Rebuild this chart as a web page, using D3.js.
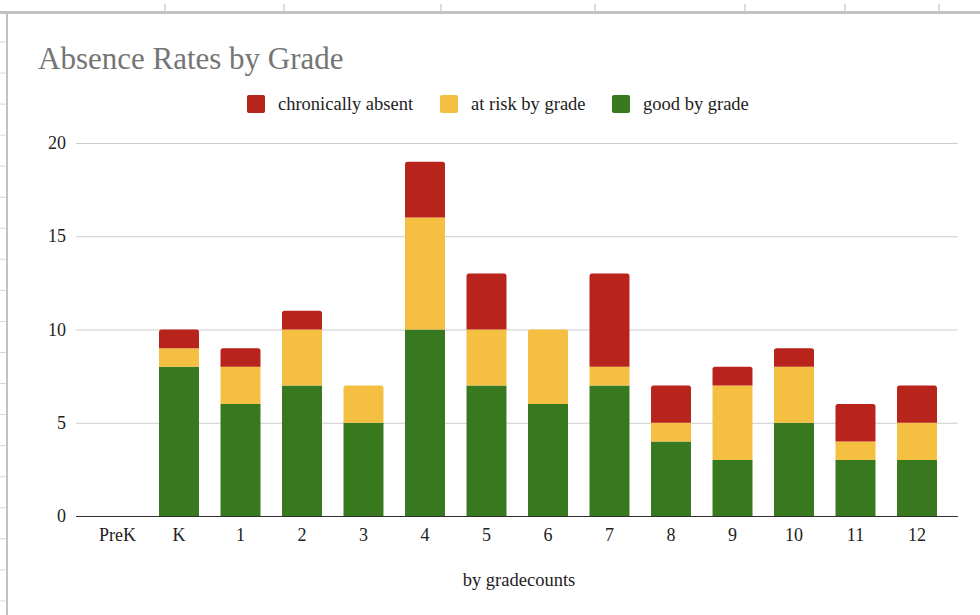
<!DOCTYPE html>
<html>
<head>
<meta charset="utf-8">
<script src="https://cdn.jsdelivr.net/npm/d3@7"></script>
<style>
  body { margin: 0; background: #fff; }
  svg { display: block; font-family: "Liberation Serif", "Times New Roman", serif; }
</style>
</head>
<body>
<script>
// data
var grades = ["PreK", "K", "1", "2", "3", "4", "5", "6", "7", "8", "9", "10", "11", "12"];
var good = [0, 8, 6, 7, 5, 10, 7, 6, 7, 4, 3, 5, 3, 3];
var atRisk = [0, 1, 2, 3, 2, 6, 3, 4, 1, 1, 4, 3, 1, 2];
var chronic = [0, 1, 1, 1, 0, 3, 3, 0, 5, 2, 1, 1, 2, 2];
var yTicks = [0, 5, 10, 15, 20];

var seriesNames = ["good by grade", "at risk by grade", "chronically absent"];
var seriesColors = ["#38781e", "#f5bf42", "#b8231b"];

var table = grades.map(function(g, i) {
	return { grade: g, good: good[i], atRisk: atRisk[i], chronic: chronic[i] };
});

var svg = d3.select("body").append("svg")
	.attr("width", 980)
	.attr("height", 615);

// spreadsheet frame behind the chart
var frame = svg.append("g");
frame.append("line")
	.attr("x1", 0).attr("x2", 980)
	.attr("y1", 12.5).attr("y2", 12.5)
	.attr("stroke", "#c2c2c2").attr("stroke-width", 3);
frame.append("line")
	.attr("x1", 7).attr("x2", 7)
	.attr("y1", 11).attr("y2", 615)
	.attr("stroke", "#c2c2c2").attr("stroke-width", 2);
frame.selectAll(".colTick")
	.data([165, 284, 441, 595, 745, 845, 939])
	.enter().append("line")
	.attr("x1", function(d) { return d; })
	.attr("x2", function(d) { return d; })
	.attr("y1", 4).attr("y2", 11)
	.attr("stroke", "#d0d0d0").attr("stroke-width", 1.5);
frame.selectAll(".rowTick")
	.data(d3.range(42, 615, 31.05))
	.enter().append("line")
	.attr("x1", 0).attr("x2", 6)
	.attr("y1", function(d) { return d; })
	.attr("y2", function(d) { return d; })
	.attr("stroke", "#d8d8d8").attr("stroke-width", 1);

var x = d3.scaleBand()
	.domain(grades)
	.range([86.75, 947.75])
	.paddingInner(0.35)
	.paddingOuter(0.175);

var y = d3.scaleLinear()
	.domain([0, 20])
	.range([516, 143]);

// gridlines
svg.append("g")
	.selectAll("line")
	.data(yTicks.filter(function(d) { return d > 0; }))
	.enter().append("line")
	.attr("x1", 76).attr("x2", 958)
	.attr("y1", function(d) { return y(d) + 0.5; })
	.attr("y2", function(d) { return y(d) + 0.5; })
	.attr("stroke", "#cccccc");

// y tick labels
svg.append("g")
	.selectAll("text")
	.data(yTicks)
	.enter().append("text")
	.attr("x", 66)
	.attr("y", function(d) { return y(d) + 6; })
	.attr("text-anchor", "end")
	.style("font-size", "18px")
	.attr("fill", "#222")
	.text(function(d) { return d; });

// stacked bars
var stack = d3.stack().keys(["good", "atRisk", "chronic"]);
var layers = stack(table);

function topPath(x0, w, y0, y1, r) {
	r = Math.min(r, (y0 - y1) / 2);
	return "M" + x0 + "," + y0 +
		"V" + (y1 + r) +
		"Q" + x0 + "," + y1 + " " + (x0 + r) + "," + y1 +
		"H" + (x0 + w - r) +
		"Q" + (x0 + w) + "," + y1 + " " + (x0 + w) + "," + (y1 + r) +
		"V" + y0 + "Z";
}

layers.forEach(function(layer, li) {
	svg.append("g")
		.attr("fill", seriesColors[li])
		.selectAll("path")
		.data(layer.filter(function(d) { return d[1] > d[0]; }))
		.enter().append("path")
		.attr("d", function(d) {
			var isTop = d[1] === d.data.good + d.data.atRisk + d.data.chronic;
			var x0 = x(d.data.grade), w = x.bandwidth();
			var yb = y(d[0]), yt = y(d[1]);
			if (isTop) return topPath(x0, w, yb, yt, 2.5);
			return "M" + x0 + "," + yb + "V" + yt + "H" + (x0 + w) + "V" + yb + "Z";
		});
});

// baseline
svg.append("line")
	.attr("x1", 76).attr("x2", 958)
	.attr("y1", y(0) + 0.5).attr("y2", y(0) + 0.5)
	.attr("stroke", "#333");

// x tick labels
svg.append("g")
	.selectAll("text")
	.data(grades)
	.enter().append("text")
	.attr("x", function(d) { return x(d) + x.bandwidth() / 2; })
	.attr("y", 541)
	.attr("text-anchor", "middle")
	.style("font-size", "18px")
	.attr("fill", "#222")
	.text(function(d) { return d; });

// axis title
svg.append("text")
	.attr("x", 519)
	.attr("y", 586)
	.attr("text-anchor", "middle")
	.style("font-size", "18.5px")
	.attr("fill", "#222")
	.text("by gradecounts");

// title
svg.append("text")
	.attr("x", 38)
	.attr("y", 69)
	.style("font-size", "31px")
	.attr("fill", "#757575")
	.text("Absence Rates by Grade");

// legend
var legendItems = [
	{ name: seriesNames[2], color: seriesColors[2], x: 247 },
	{ name: seriesNames[1], color: seriesColors[1], x: 440 },
	{ name: seriesNames[0], color: seriesColors[0], x: 612 }
];
var legend = svg.append("g")
	.selectAll("g")
	.data(legendItems)
	.enter().append("g")
	.attr("transform", function(d) { return "translate(" + d.x + ",95)"; });
legend.append("rect")
	.attr("width", 18).attr("height", 18)
	.attr("rx", 2)
	.attr("fill", function(d) { return d.color; });
legend.append("text")
	.attr("x", 31)
	.attr("y", 15)
	.style("font-size", "18.5px")
	.attr("fill", "#222")
	.text(function(d) { return d.name; });
</script>
</body>
</html>
